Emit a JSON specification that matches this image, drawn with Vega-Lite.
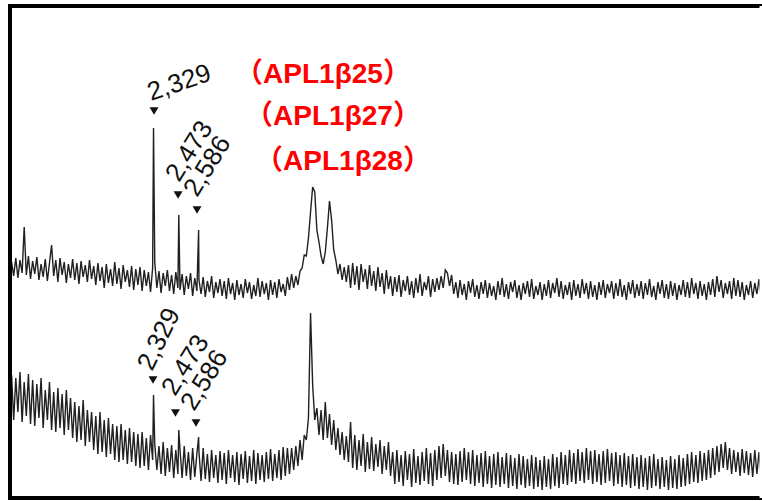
{
"$schema": "https://vega.github.io/schema/vega-lite/v6.json",
"width": 752, "height": 492,
"autosize": {"type": "none"},
"padding": {"left": 10, "top": 6, "right": 0, "bottom": 3},
"background": "white",
"config": {"view": {"stroke": null}},
"datasets": {
"spec": [
{"m":1520,"t":38,"b":115},{"m":1532,"t":24,"b":70},{"m":1544,"t":42,"b":112},{"m":1556,"t":22,"b":78},{"m":1568,"t":40,"b":118},{"m":1580,"t":27,"b":68},{"m":1592,"t":73,"b":108},{"m":1604,"t":25,"b":74},{"m":1616,"t":44,"b":116},{"m":1628,"t":21,"b":66},
{"m":1640,"t":39,"b":110},{"m":1652,"t":26,"b":64},{"m":1664,"t":43,"b":106},{"m":1676,"t":20,"b":72},{"m":1688,"t":36,"b":112},{"m":1700,"t":23,"b":62},{"m":1712,"t":41,"b":100},{"m":1724,"t":19,"b":70},{"m":1736,"t":37,"b":108},{"m":1748,"t":55,"b":60},
{"m":1760,"t":24,"b":98},{"m":1772,"t":40,"b":58},{"m":1784,"t":18,"b":102},{"m":1796,"t":42,"b":62},{"m":1808,"t":25,"b":96},{"m":1820,"t":38,"b":55},{"m":1832,"t":17,"b":100},{"m":1844,"t":36,"b":60},{"m":1856,"t":22,"b":92},{"m":1868,"t":41,"b":52},
{"m":1880,"t":20,"b":88},{"m":1892,"t":37,"b":48},{"m":1904,"t":16,"b":84},{"m":1916,"t":39,"b":50},{"m":1928,"t":23,"b":90},{"m":1940,"t":35,"b":44},{"m":1952,"t":18,"b":80},{"m":1964,"t":40,"b":48},{"m":1976,"t":21,"b":78},{"m":1988,"t":34,"b":40},
{"m":2000,"t":15,"b":74},{"m":2012,"t":37,"b":36},{"m":2024,"t":19,"b":78},{"m":2036,"t":33,"b":38},{"m":2048,"t":12,"b":70},{"m":2060,"t":36,"b":33},{"m":2072,"t":17,"b":72},{"m":2084,"t":31,"b":36},{"m":2096,"t":14,"b":66},{"m":2108,"t":38,"b":30},
{"m":2120,"t":16,"b":64},{"m":2132,"t":32,"b":28},{"m":2144,"t":11,"b":66},{"m":2156,"t":35,"b":30},{"m":2168,"t":18,"b":60},{"m":2180,"t":30,"b":26},{"m":2192,"t":13,"b":62},{"m":2204,"t":34,"b":28},{"m":2216,"t":10,"b":58},{"m":2228,"t":31,"b":24},
{"m":2240,"t":15,"b":56},{"m":2252,"t":33,"b":22},{"m":2264,"t":9,"b":58},{"m":2276,"t":30,"b":24},{"m":2288,"t":14,"b":52},{"m":2300,"t":28,"b":20},{"m":2312,"t":8,"b":55},{"m":2324,"t":32,"b":30},
{"m":2329,"t":172,"b":95},
{"m":2336,"t":38,"b":46},{"m":2348,"t":12,"b":20},{"m":2360,"t":29,"b":44},{"m":2372,"t":7,"b":16},{"m":2384,"t":27,"b":48},{"m":2396,"t":14,"b":14},{"m":2408,"t":30,"b":42},{"m":2420,"t":9,"b":18},{"m":2432,"t":25,"b":45},{"m":2444,"t":6,"b":12},{"m":2456,"t":28,"b":40},{"m":2468,"t":12,"b":16},
{"m":2473,"t":85,"b":60},
{"m":2480,"t":10,"b":40},{"m":2492,"t":26,"b":12},{"m":2504,"t":5,"b":44},{"m":2516,"t":24,"b":14},{"m":2528,"t":11,"b":38},{"m":2540,"t":27,"b":10},{"m":2552,"t":4,"b":42},{"m":2564,"t":22,"b":13},{"m":2576,"t":9,"b":36},
{"m":2586,"t":70,"b":53},
{"m":2588,"t":20,"b":38},{"m":2600,"t":6,"b":9},{"m":2612,"t":23,"b":42},{"m":2624,"t":3,"b":11},{"m":2636,"t":19,"b":36},{"m":2648,"t":8,"b":8},{"m":2660,"t":24,"b":40},{"m":2672,"t":2,"b":12},{"m":2684,"t":18,"b":35},{"m":2696,"t":7,"b":7},{"m":2708,"t":21,"b":39},
{"m":2720,"t":4,"b":10},{"m":2732,"t":19,"b":37},{"m":2744,"t":1,"b":6},{"m":2756,"t":22,"b":40},{"m":2768,"t":6,"b":12},{"m":2780,"t":17,"b":35},{"m":2792,"t":0,"b":8},{"m":2804,"t":20,"b":38},{"m":2816,"t":5,"b":5},{"m":2828,"t":16,"b":36},
{"m":2840,"t":2,"b":11},{"m":2852,"t":21,"b":39},{"m":2864,"t":7,"b":7},{"m":2876,"t":18,"b":34},{"m":2888,"t":1,"b":9},{"m":2900,"t":15,"b":40},{"m":2912,"t":4,"b":6},{"m":2924,"t":22,"b":37},{"m":2936,"t":3,"b":10},{"m":2948,"t":19,"b":35},
{"m":2960,"t":6,"b":8},{"m":2972,"t":17,"b":38},{"m":2984,"t":0,"b":11},{"m":2996,"t":20,"b":41},{"m":3008,"t":5,"b":9},{"m":3020,"t":18,"b":36},{"m":3032,"t":2,"b":12},{"m":3044,"t":21,"b":40},{"m":3056,"t":8,"b":10},{"m":3068,"t":16,"b":43},
{"m":3080,"t":4,"b":14},{"m":3092,"t":23,"b":42},{"m":3104,"t":10,"b":16},{"m":3116,"t":26,"b":42},{"m":3128,"t":12,"b":20},{"m":3140,"t":24,"b":44},{"m":3152,"t":15,"b":24},{"m":3164,"t":29,"b":50},{"m":3176,"t":32,"b":30},{"m":3188,"t":45,"b":55},
{"m":3200,"t":44,"b":50},{"m":3212,"t":62,"b":72},{"m":3224,"t":88,"b":177},{"m":3236,"t":113,"b":105},{"m":3248,"t":108,"b":70},{"m":3260,"t":70,"b":82},{"m":3272,"t":58,"b":55},{"m":3284,"t":44,"b":80},{"m":3296,"t":36,"b":50},{"m":3308,"t":48,"b":88},
{"m":3320,"t":72,"b":52},{"m":3332,"t":99,"b":76},{"m":3344,"t":80,"b":45},{"m":3356,"t":50,"b":70},{"m":3368,"t":40,"b":40},{"m":3380,"t":26,"b":62},{"m":3392,"t":36,"b":35},{"m":3404,"t":20,"b":58},{"m":3416,"t":33,"b":30},{"m":3428,"t":18,"b":54},
{"m":3440,"t":35,"b":28},{"m":3452,"t":12,"b":68},{"m":3464,"t":37,"b":22},{"m":3476,"t":15,"b":55},{"m":3488,"t":34,"b":20},{"m":3500,"t":10,"b":50},{"m":3512,"t":36,"b":24},{"m":3524,"t":18,"b":56},{"m":3536,"t":31,"b":18},{"m":3548,"t":11,"b":48},
{"m":3560,"t":35,"b":21},{"m":3572,"t":14,"b":53},{"m":3584,"t":29,"b":19},{"m":3596,"t":9,"b":46},{"m":3608,"t":33,"b":23},{"m":3620,"t":13,"b":50},{"m":3632,"t":27,"b":16},{"m":3644,"t":6,"b":44},{"m":3656,"t":30,"b":20},{"m":3668,"t":11,"b":48},
{"m":3680,"t":24,"b":14},{"m":3692,"t":4,"b":38},{"m":3704,"t":23,"b":6},{"m":3716,"t":8,"b":40},{"m":3728,"t":25,"b":8},{"m":3740,"t":3,"b":35},{"m":3752,"t":20,"b":4},{"m":3764,"t":9,"b":39},{"m":3776,"t":24,"b":10},{"m":3788,"t":5,"b":36},
{"m":3800,"t":19,"b":3},{"m":3812,"t":2,"b":41},{"m":3824,"t":22,"b":7},{"m":3836,"t":7,"b":34},{"m":3848,"t":26,"b":5},{"m":3860,"t":4,"b":38},{"m":3872,"t":18,"b":9},{"m":3884,"t":10,"b":42},{"m":3896,"t":24,"b":6},{"m":3908,"t":3,"b":37},
{"m":3920,"t":21,"b":4},{"m":3932,"t":8,"b":40},{"m":3944,"t":22,"b":10},{"m":3956,"t":10,"b":44},{"m":3968,"t":24,"b":12},{"m":3980,"t":12,"b":46},{"m":3992,"t":30,"b":14},{"m":4004,"t":27,"b":40},{"m":4016,"t":14,"b":8},{"m":4028,"t":25,"b":38},
{"m":4040,"t":6,"b":6},{"m":4052,"t":18,"b":36},{"m":4064,"t":2,"b":5},{"m":4076,"t":20,"b":39},{"m":4088,"t":5,"b":8},{"m":4100,"t":16,"b":42},{"m":4112,"t":0,"b":10},{"m":4124,"t":19,"b":38},{"m":4136,"t":7,"b":6},{"m":4148,"t":21,"b":40},
{"m":4160,"t":3,"b":4},{"m":4172,"t":15,"b":35},{"m":4184,"t":1,"b":7},{"m":4196,"t":18,"b":37},{"m":4208,"t":6,"b":3},{"m":4220,"t":20,"b":39},{"m":4232,"t":2,"b":6},{"m":4244,"t":17,"b":34},{"m":4256,"t":4,"b":2},{"m":4268,"t":14,"b":36},
{"m":4280,"t":0,"b":5},{"m":4292,"t":19,"b":38},{"m":4304,"t":5,"b":3},{"m":4316,"t":22,"b":33},{"m":4328,"t":3,"b":6},{"m":4340,"t":16,"b":37},{"m":4352,"t":1,"b":2},{"m":4364,"t":18,"b":35},{"m":4376,"t":8,"b":4},{"m":4388,"t":20,"b":32},
{"m":4400,"t":2,"b":1},{"m":4412,"t":15,"b":36},{"m":4424,"t":0,"b":5},{"m":4436,"t":17,"b":34},{"m":4448,"t":6,"b":2},{"m":4460,"t":19,"b":31},{"m":4472,"t":3,"b":4},{"m":4484,"t":21,"b":35},{"m":4496,"t":1,"b":1},{"m":4508,"t":14,"b":33},
{"m":4520,"t":5,"b":3},{"m":4532,"t":18,"b":30},{"m":4544,"t":0,"b":0},{"m":4556,"t":16,"b":34},{"m":4568,"t":4,"b":3},{"m":4580,"t":20,"b":31},{"m":4592,"t":2,"b":1},{"m":4604,"t":17,"b":36},{"m":4616,"t":7,"b":4},{"m":4628,"t":22,"b":33},
{"m":4640,"t":3,"b":2},{"m":4652,"t":19,"b":38},{"m":4664,"t":1,"b":6},{"m":4676,"t":15,"b":35},{"m":4688,"t":5,"b":5},{"m":4700,"t":18,"b":40},{"m":4712,"t":0,"b":8},{"m":4724,"t":20,"b":37},{"m":4736,"t":4,"b":6},{"m":4748,"t":16,"b":41},
{"m":4760,"t":2,"b":9},{"m":4772,"t":21,"b":38},{"m":4784,"t":6,"b":7},{"m":4796,"t":17,"b":42},{"m":4808,"t":1,"b":10},{"m":4820,"t":19,"b":39},{"m":4832,"t":3,"b":6},{"m":4844,"t":15,"b":40},{"m":4856,"t":0,"b":8},{"m":4868,"t":18,"b":36},
{"m":4880,"t":5,"b":5},{"m":4892,"t":20,"b":39},{"m":4904,"t":2,"b":7},{"m":4916,"t":16,"b":41},{"m":4928,"t":7,"b":9},{"m":4940,"t":19,"b":37},{"m":4952,"t":1,"b":4},{"m":4964,"t":17,"b":38},{"m":4976,"t":4,"b":6},{"m":4988,"t":21,"b":35},
{"m":5000,"t":3,"b":3},{"m":5012,"t":15,"b":37},{"m":5024,"t":0,"b":5},{"m":5036,"t":18,"b":34},{"m":5048,"t":6,"b":2},{"m":5060,"t":20,"b":36},{"m":5072,"t":2,"b":4},{"m":5084,"t":16,"b":33},{"m":5096,"t":4,"b":1},{"m":5108,"t":19,"b":35},
{"m":5120,"t":1,"b":3},{"m":5132,"t":17,"b":32},{"m":5144,"t":5,"b":0},{"m":5156,"t":21,"b":34},{"m":5168,"t":3,"b":2},{"m":5180,"t":14,"b":36},{"m":5192,"t":0,"b":4},{"m":5204,"t":18,"b":31},{"m":5216,"t":6,"b":1},{"m":5228,"t":20,"b":33},
{"m":5240,"t":2,"b":3},{"m":5252,"t":16,"b":30},{"m":5264,"t":1,"b":0},{"m":5276,"t":19,"b":34},{"m":5288,"t":4,"b":2},{"m":5300,"t":17,"b":31},{"m":5312,"t":0,"b":1},{"m":5324,"t":15,"b":35},{"m":5336,"t":5,"b":3},{"m":5348,"t":20,"b":32},
{"m":5360,"t":3,"b":4},{"m":5372,"t":18,"b":36},{"m":5384,"t":2,"b":6},{"m":5396,"t":22,"b":38},{"m":5408,"t":6,"b":8},{"m":5420,"t":17,"b":35},{"m":5432,"t":1,"b":7},{"m":5444,"t":19,"b":39},{"m":5456,"t":4,"b":9},{"m":5468,"t":16,"b":37},
{"m":5480,"t":0,"b":10},{"m":5492,"t":18,"b":40},{"m":5504,"t":5,"b":12},{"m":5516,"t":21,"b":42},{"m":5528,"t":3,"b":15},{"m":5540,"t":24,"b":44},{"m":5552,"t":8,"b":18},{"m":5564,"t":20,"b":46},{"m":5576,"t":2,"b":22},{"m":5588,"t":17,"b":48},
{"m":5600,"t":6,"b":20},{"m":5612,"t":19,"b":42},{"m":5624,"t":1,"b":16},{"m":5636,"t":22,"b":40},{"m":5648,"t":4,"b":18},{"m":5660,"t":20,"b":38},{"m":5672,"t":3,"b":14},{"m":5684,"t":18,"b":41},{"m":5696,"t":0,"b":17},{"m":5708,"t":15,"b":39},
{"m":5720,"t":5,"b":15},{"m":5732,"t":19,"b":37},{"m":5744,"t":2,"b":13},{"m":5756,"t":17,"b":40},{"m":5768,"t":6,"b":16},{"m":5780,"t":21,"b":38},{"m":5792,"t":3,"b":14}
],
"marks": [
{"tr":"top","m":2332,"v":189},{"tr":"top","m":2469,"v":105},{"tr":"top","m":2577,"v":90},
{"tr":"bottom","m":2326,"v":110},{"tr":"bottom","m":2454,"v":77},{"tr":"bottom","m":2571,"v":67}
],
"labs": [
{"tr":"top","lab":"2,329","m":2315,"v":199},{"tr":"top","lab":"2,473","m":2474,"v":117},{"tr":"top","lab":"2,586","m":2577,"v":102},
{"tr":"bottom","lab":"2,329","m":2320,"v":118},{"tr":"bottom","lab":"2,473","m":2452,"v":93},{"tr":"bottom","lab":"2,586","m":2560,"v":78}
],
"apl": [
{"lab":"（APL1β25）","m":3295,"v":217},{"lab":"（APL1β27）","m":3352,"v":175},{"lab":"（APL1β28）","m":3409,"v":130}
],
"frame": [{"x0": 1511, "x1": 5797, "ytop": 294, "ybot": -198}]
},
"layer": [
{"data": {"name": "spec"}, "mark": {"type": "line", "stroke": "#202020", "strokeWidth": 1.4},
 "encoding": {"x": {"field": "m", "type": "quantitative", "scale": {"domain": [1511, 5797], "nice": false, "zero": false}, "axis": null},
  "y": {"field": "t", "type": "quantitative", "scale": {"domain": [-198, 294], "nice": false, "zero": false}, "axis": null}}},
{"data": {"name": "spec"}, "mark": {"type": "line", "stroke": "#202020", "strokeWidth": 1.4},
 "encoding": {"x": {"field": "m", "type": "quantitative", "scale": {"domain": [1511, 5797], "nice": false, "zero": false}, "axis": null},
  "y": {"field": "b", "type": "quantitative", "scale": {"domain": [-8, 484], "nice": false, "zero": false}, "axis": null}}},
{"data": {"name": "frame"}, "mark": {"type": "rule", "stroke": "#000", "strokeWidth": 4, "strokeCap": "square"},
 "encoding": {"x": {"field": "x0", "type": "quantitative", "scale": {"domain": [1511, 5797], "nice": false, "zero": false}, "axis": null}}},
{"data": {"name": "frame"}, "mark": {"type": "rule", "stroke": "#000", "strokeWidth": 4},
 "encoding": {"y": {"field": "ytop", "type": "quantitative", "scale": {"domain": [-198, 294], "nice": false, "zero": false}, "axis": null}}},
{"data": {"name": "frame"}, "mark": {"type": "rule", "stroke": "#000", "strokeWidth": 4},
 "encoding": {"y": {"field": "ybot", "type": "quantitative", "scale": {"domain": [-198, 294], "nice": false, "zero": false}, "axis": null}}},
{"data": {"name": "marks"}, "transform": [{"filter": "datum.tr == 'top'"}], "mark": {"type": "point", "shape": "triangle-down", "filled": true, "size": 80, "color": "#111", "opacity": 1},
 "encoding": {"x": {"field": "m", "type": "quantitative", "scale": {"domain": [1511, 5797], "nice": false, "zero": false}, "axis": null},
  "y": {"field": "v", "type": "quantitative", "scale": {"domain": [-198, 294], "nice": false, "zero": false}, "axis": null}}},
{"data": {"name": "marks"}, "transform": [{"filter": "datum.tr == 'bottom'"}], "mark": {"type": "point", "shape": "triangle-down", "filled": true, "size": 80, "color": "#111", "opacity": 1},
 "encoding": {"x": {"field": "m", "type": "quantitative", "scale": {"domain": [1511, 5797], "nice": false, "zero": false}, "axis": null},
  "y": {"field": "v", "type": "quantitative", "scale": {"domain": [-8, 484], "nice": false, "zero": false}, "axis": null}}},
{"data": {"name": "labs"}, "transform": [{"filter": "datum.tr == 'top' && datum.lab == '2,329'"}], "mark": {"type": "text", "angle": 341, "align": "left", "baseline": "alphabetic", "font": "Liberation Sans", "fontSize": 26, "fill": "#111"},
 "encoding": {"x": {"field": "m", "type": "quantitative", "scale": {"domain": [1511, 5797], "nice": false, "zero": false}, "axis": null},
  "y": {"field": "v", "type": "quantitative", "scale": {"domain": [-198, 294], "nice": false, "zero": false}, "axis": null}, "text": {"field": "lab"}}},
{"data": {"name": "labs"}, "transform": [{"filter": "datum.tr == 'top' && datum.lab != '2,329'"}], "mark": {"type": "text", "angle": 302, "align": "left", "baseline": "alphabetic", "font": "Liberation Sans", "fontSize": 26, "fill": "#111"},
 "encoding": {"x": {"field": "m", "type": "quantitative", "scale": {"domain": [1511, 5797], "nice": false, "zero": false}, "axis": null},
  "y": {"field": "v", "type": "quantitative", "scale": {"domain": [-198, 294], "nice": false, "zero": false}, "axis": null}, "text": {"field": "lab"}}},
{"data": {"name": "labs"}, "transform": [{"filter": "datum.tr == 'bottom' && datum.lab == '2,329'"}], "mark": {"type": "text", "angle": 296, "align": "left", "baseline": "alphabetic", "font": "Liberation Sans", "fontSize": 26, "fill": "#111"},
 "encoding": {"x": {"field": "m", "type": "quantitative", "scale": {"domain": [1511, 5797], "nice": false, "zero": false}, "axis": null},
  "y": {"field": "v", "type": "quantitative", "scale": {"domain": [-8, 484], "nice": false, "zero": false}, "axis": null}, "text": {"field": "lab"}}},
{"data": {"name": "labs"}, "transform": [{"filter": "datum.tr == 'bottom' && datum.lab != '2,329'"}], "mark": {"type": "text", "angle": 302, "align": "left", "baseline": "alphabetic", "font": "Liberation Sans", "fontSize": 26, "fill": "#111"},
 "encoding": {"x": {"field": "m", "type": "quantitative", "scale": {"domain": [1511, 5797], "nice": false, "zero": false}, "axis": null},
  "y": {"field": "v", "type": "quantitative", "scale": {"domain": [-8, 484], "nice": false, "zero": false}, "axis": null}, "text": {"field": "lab"}}},
{"data": {"name": "apl"}, "mark": {"type": "text", "align": "center", "baseline": "alphabetic", "font": "Liberation Sans, Noto Sans CJK JP", "fontSize": 28, "fontWeight": "bold", "fill": "#ff0000"},
 "encoding": {"x": {"field": "m", "type": "quantitative", "scale": {"domain": [1511, 5797], "nice": false, "zero": false}, "axis": null},
  "y": {"field": "v", "type": "quantitative", "scale": {"domain": [-198, 294], "nice": false, "zero": false}, "axis": null}, "text": {"field": "lab"}}},
{"data": {"name": "frame"}, "mark": {"type": "rule", "stroke": "#ffffff", "strokeWidth": 5},
 "encoding": {"x": {"field": "x1", "type": "quantitative", "scale": {"domain": [1511, 5797], "nice": false, "zero": false}, "axis": null}}}
],
"resolve": {"scale": {"y": "independent"}}
}
